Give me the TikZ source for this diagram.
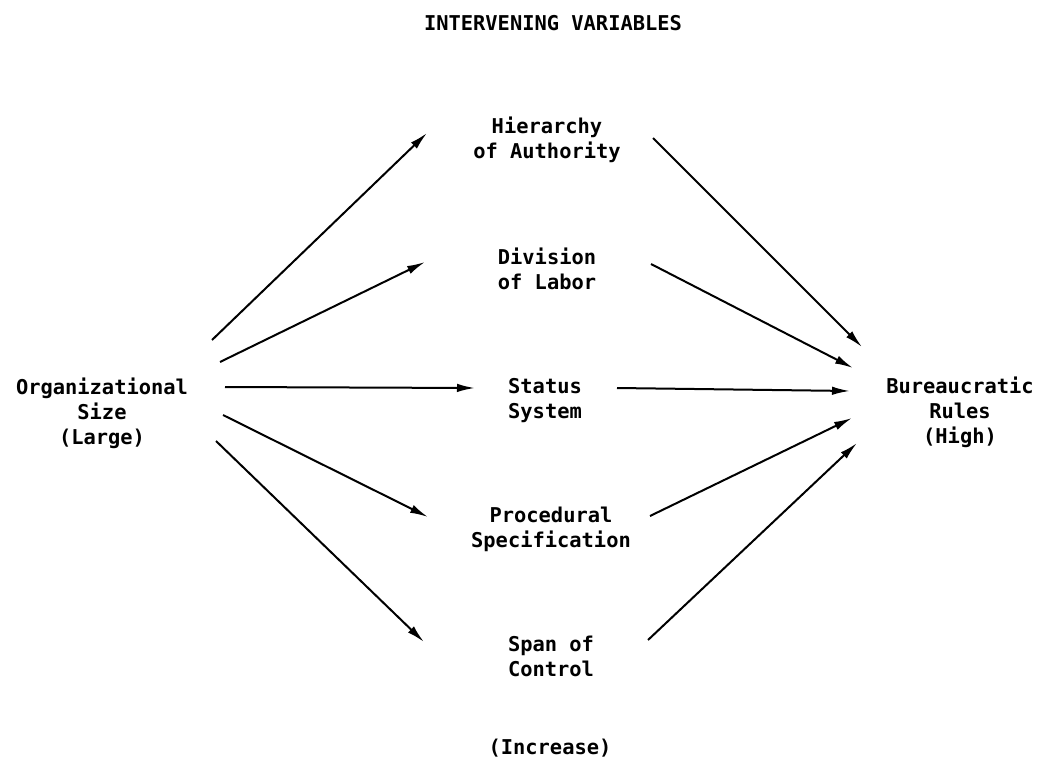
\documentclass[tikz,border=0pt]{standalone}
\usepackage{fontspec}
\setmainfont{DejaVu Sans Mono}
\usetikzlibrary{arrows.meta}

\begin{document}
\begin{tikzpicture}[x=1pt, y=-1pt,
    lbl/.style={inner sep=0pt, align=center, font=\fontsize{20.4}{25}\selectfont\bfseries},
    arr/.style={-{Latex[length=18pt, width=8.5pt]}, line width=2pt, black}]
    \useasboundingbox (0,0) rectangle (1037,760);
    \node[lbl] (title) at (553,23) {INTERVENING VARIABLES};
    \node[lbl] (size) at (102,413) {Organizational\\Size\\(Large)};
    \node[lbl] (rules) at (960,412) {Bureaucratic\\Rules\\(High)};
    \node[lbl] (hier) at (547,140) {Hierarchy\\of Authority};
    \node[lbl] (div) at (547,269) {Division\\of Labor};
    \node[lbl] (stat) at (545,401) {Status\\System};
    \node[lbl] (proc) at (551,529) {Procedural\\Specification};
    \node[lbl] (span) at (551,656) {Span of\\Control};
    \node[lbl] (incr) at (550,748) {(Increase)};
    % size -> intervening variables
    \draw[arr] ([shift={(110,-73)}]size.center) -- ([shift={(-120,-7)}]hier.center);
    \draw[arr] ([shift={(118,-51)}]size.center) -- ([shift={(-122,-7)}]div.center);
    \draw[arr] ([shift={(123,-26)}]size.center) -- ([shift={(-70,-13)}]stat.center);
    \draw[arr] ([shift={(121,2)}]size.center) -- ([shift={(-123,-12)}]proc.center);
    \draw[arr] ([shift={(114,28)}]size.center) -- ([shift={(-127,-14)}]span.center);
    % intervening variables -> rules
    \draw[arr] ([shift={(106,-2)}]hier.center) -- ([shift={(-98,-65)}]rules.center);
    \draw[arr] ([shift={(104,-5)}]div.center) -- ([shift={(-107,-44)}]rules.center);
    \draw[arr] ([shift={(72,-13)}]stat.center) -- ([shift={(-110,-21)}]rules.center);
    \draw[arr] ([shift={(99,-13)}]proc.center) -- ([shift={(-108,6)}]rules.center);
    \draw[arr] ([shift={(97,-16)}]span.center) -- ([shift={(-103,31)}]rules.center);
\end{tikzpicture}
\end{document}
